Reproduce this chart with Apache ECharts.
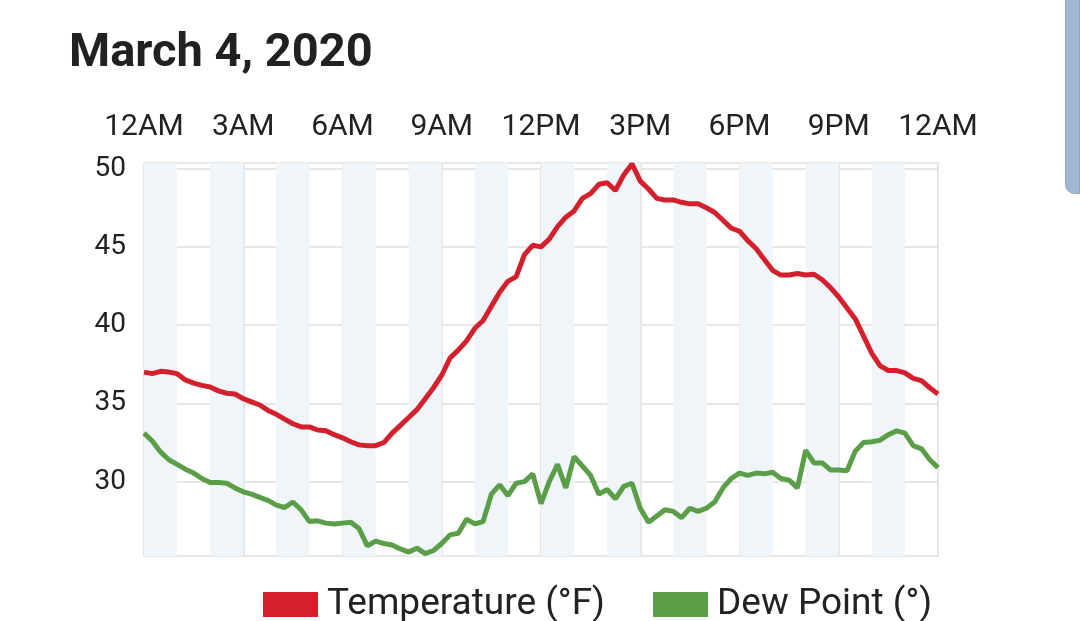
<!DOCTYPE html>
<html>
<head>
<meta charset="utf-8">
<script src="https://cdn.jsdelivr.net/npm/echarts@6/dist/echarts.min.js"></script>
<style>
  html, body { margin: 0; padding: 0; background: #fff; }
  #chart { width: 1080px; height: 621px; }
</style>
</head>
<body>
<div id="chart"></div>
<script>
// readings every 15 minutes, hours since midnight
var hours = [];
for (var i = 0; i <= 96; i++) hours.push(i / 4);

var hourLabels = ["12AM", "3AM", "6AM", "9AM", "12PM", "3PM", "6PM", "9PM", "12AM"];
var yTicks = [30, 35, 40, 45, 50];

var temperature = [
  37.0, 36.9, 37.05, 37.0, 36.9, 36.5, 36.3, 36.15,
  36.05, 35.8, 35.65, 35.6, 35.3, 35.1, 34.9, 34.55,
  34.3, 34.0, 33.7, 33.5, 33.5, 33.3, 33.25, 33.0,
  32.8, 32.55, 32.35, 32.3, 32.3, 32.5, 33.1, 33.6,
  34.1, 34.6, 35.3, 36.0, 36.8, 37.9, 38.4, 39.0,
  39.8, 40.3, 41.2, 42.1, 42.8, 43.1, 44.5, 45.1,
  45.0, 45.5, 46.3, 46.9, 47.3, 48.1, 48.4, 49.0,
  49.1, 48.6, 49.6, 50.3, 49.2, 48.7, 48.1, 48.0,
  48.0, 47.85, 47.75, 47.75, 47.5, 47.2, 46.7, 46.2,
  46.0, 45.4, 44.9, 44.2, 43.5, 43.2, 43.2, 43.3,
  43.2, 43.25, 42.9, 42.4, 41.8, 41.1, 40.4, 39.3,
  38.2, 37.4, 37.1, 37.1, 36.95, 36.6, 36.45, 36.0,
  35.6
];

var dewPoint = [
  33.1, 32.6, 31.9, 31.4, 31.1, 30.8, 30.55, 30.2,
  29.95, 29.95, 29.9, 29.6, 29.35, 29.2, 29.0, 28.8,
  28.5, 28.35, 28.7, 28.2, 27.45, 27.5, 27.35, 27.3,
  27.35, 27.4, 27.0, 25.9, 26.2, 26.05, 25.95, 25.7,
  25.5, 25.75, 25.4, 25.6, 26.05, 26.6, 26.7, 27.6,
  27.3, 27.45, 29.2, 29.8, 29.1, 29.9, 30.0, 30.5,
  28.6, 30.0, 31.1, 29.6, 31.6, 31.0, 30.4, 29.2,
  29.5, 28.9, 29.7, 29.9, 28.3, 27.4, 27.8, 28.2,
  28.1, 27.7, 28.3, 28.1, 28.3, 28.7, 29.6, 30.2,
  30.55, 30.4, 30.55, 30.5, 30.6, 30.2, 30.1, 29.6,
  32.0, 31.2, 31.2, 30.75, 30.75, 30.7, 31.95, 32.5,
  32.55, 32.65, 33.0, 33.25, 33.1, 32.3, 32.1, 31.4,
  30.9
];

function pairs(vals) {
  return hours.map(function (h, i) { return [h, vals[i]]; });
}

var chart = echarts.init(document.getElementById("chart"));
var fontFamily = "Roboto, 'Noto Sans', sans-serif";

chart.setOption({
  backgroundColor: "#fff",
  animation: false,
  textStyle: { fontFamily: fontFamily },
  title: {
    text: "March 4, 2020",
    left: 64,
    top: 26,
    textStyle: { fontSize: 47, fontWeight: "bold", color: "#212121", fontFamily: fontFamily }
  },
  legend: {
    top: 581,
    left: 258,
    icon: "rect",
    itemWidth: 55,
    itemHeight: 25,
    itemGap: 48,
    textStyle: { fontSize: 37, color: "#222", fontFamily: fontFamily, padding: [0, 0, 0, 4] },
    data: ["Temperature (°F)", "Dew Point (°)"]
  },
  grid: {
    left: 144,
    right: 142,
    top: 163,
    bottom: 65,
    show: true,
    borderColor: "#e6e6e6",
    borderWidth: 2,
    backgroundColor: "transparent"
  },
  xAxis: [
    {
      type: "value",
      position: "top",
      min: 0,
      max: 24,
      interval: 3,
      axisLine: { show: false },
      axisTick: { show: false },
      axisLabel: {
        margin: 21,
        fontSize: 30,
        color: "#222",
        formatter: function (v) { return hourLabels[v / 3]; }
      },
      splitLine: { show: true, lineStyle: { color: "#e6e6e6", width: 2 } }
    },
    {
      // hourly shading behind the lines
      type: "value",
      position: "bottom",
      min: 0,
      max: 24,
      interval: 1,
      axisLine: { show: false },
      axisTick: { show: false },
      axisLabel: { show: false },
      splitLine: { show: false },
      splitArea: { show: true, areaStyle: { color: ["#f0f5fa", "rgba(255,255,255,0)"] } }
    }
  ],
  yAxis: {
    type: "value",
    min: 25.25,
    max: 50.36,
    axisLine: { show: false },
    axisTick: { show: false, customValues: yTicks },
    axisLabel: { margin: 18, fontSize: 28, color: "#222", customValues: yTicks },
    splitLine: { show: true, lineStyle: { color: "#e6e6e6", width: 2 } }
  },
  series: [
    {
      name: "Temperature (°F)",
      type: "line",
      xAxisIndex: 0,
      data: pairs(temperature),
      showSymbol: false,
      color: "#d4202c",
      lineStyle: { width: 5, color: "#d4202c" },
      z: 3
    },
    {
      name: "Dew Point (°)",
      type: "line",
      xAxisIndex: 0,
      data: pairs(dewPoint),
      showSymbol: false,
      color: "#5b9e48",
      lineStyle: { width: 5, color: "#5b9e48" },
      z: 3
    }
  ],
  graphic: [
    {
      type: "rect",
      right: 0,
      top: -10,
      shape: { width: 14, height: 203, r: [0, 0, 0, 9] },
      style: { fill: "#9fb8d0", stroke: "#93a9bd", lineWidth: 1 }
    }
  ]
});
</script>
</body>
</html>
